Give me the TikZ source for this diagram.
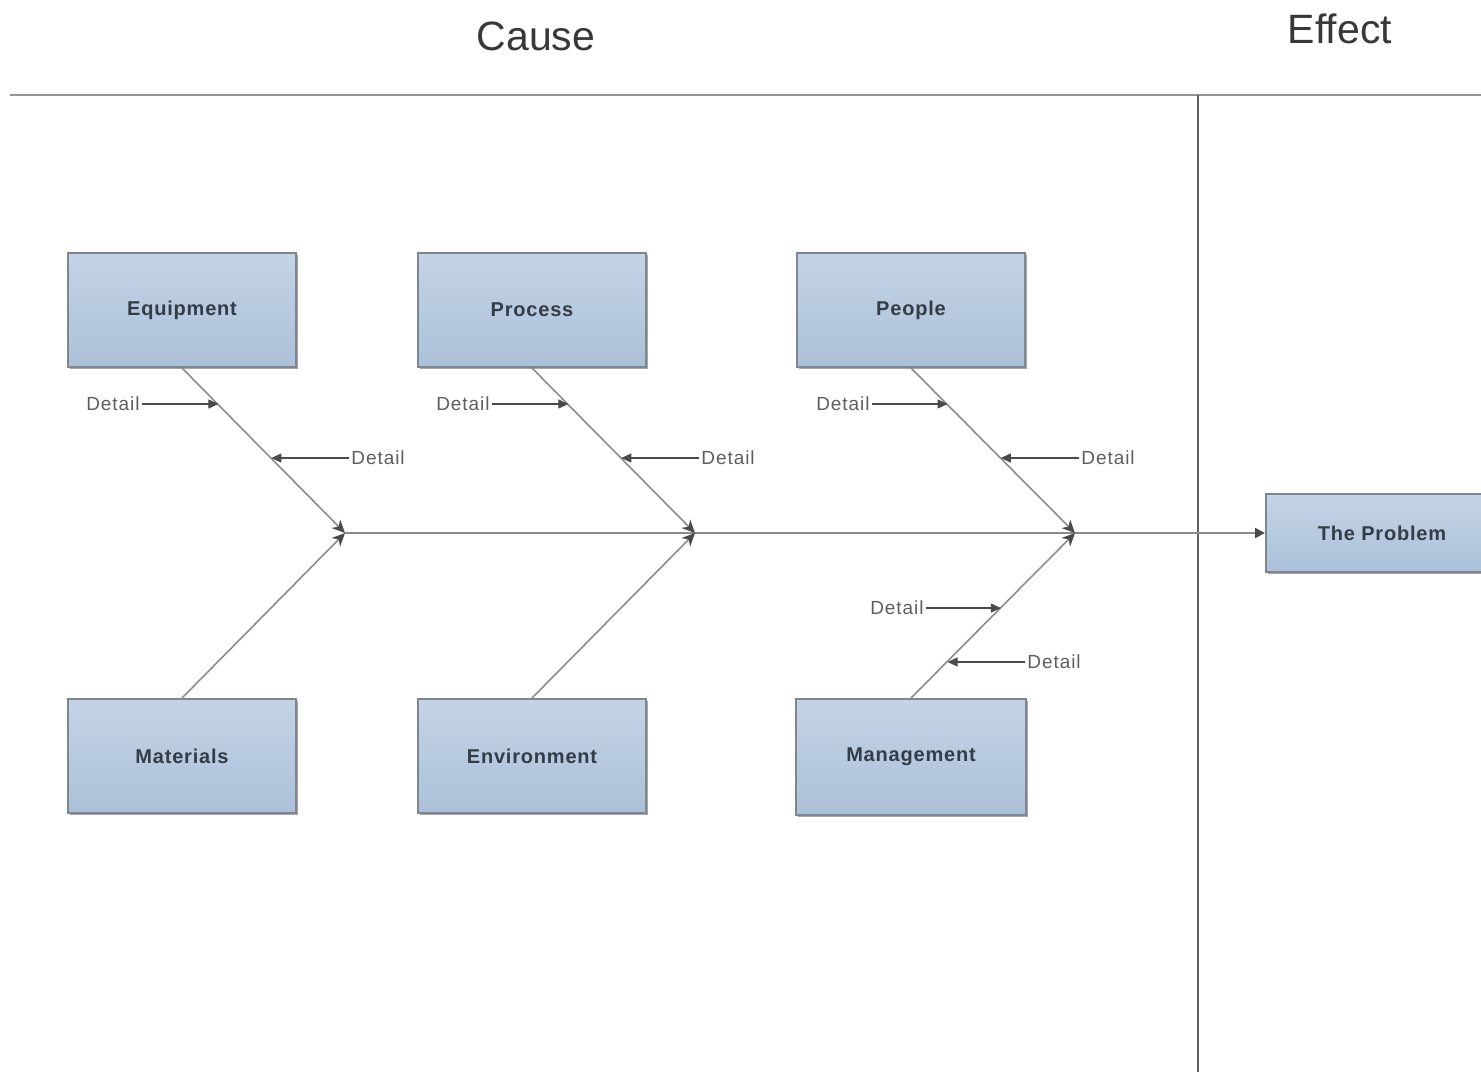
\documentclass[tikz,border=0pt]{standalone}
\usepackage{fontspec}
\setmainfont{Liberation Sans}
\usetikzlibrary{arrows.meta,calc,shadows}
\definecolor{boxtop}{HTML}{C4D4E6}
\definecolor{boxbot}{HTML}{ACC0D8}
\definecolor{boxedge}{HTML}{7E868F}
\definecolor{boxtext}{HTML}{333D48}
\definecolor{bonegray}{HTML}{8C8C8C}
\definecolor{tipgray}{HTML}{4A4A4A}
\definecolor{labelgray}{HTML}{5E5E5E}
\tikzset{
  causebox/.style={draw=boxedge, line width=1pt, top color=boxtop, bottom color=boxbot,
    minimum width=114pt, minimum height=57pt, inner sep=0pt,
    font=\fontsize{10}{12}\selectfont\bfseries\addfontfeatures{LetterSpace=4}, text=boxtext,
    drop shadow={shadow xshift=1pt, shadow yshift=-1.2pt, opacity=0.35, fill=black}},
  bone/.style={draw=bonegray, line width=0.8pt},
  spine/.style={draw=bonegray, line width=1pt},
  tip/.style={-{Stealth[length=6.5pt,width=6pt,inset=2pt,color=tipgray,fill=tipgray]}},
  detail/.style={font=\fontsize{9.5}{11}\selectfont\addfontfeatures{LetterSpace=5}, text=labelgray, inner sep=1pt},
  darrow/.style={draw=tipgray, line width=0.6pt, -{Triangle[length=5pt,width=4.5pt,color=tipgray,fill=tipgray]}},
  heading/.style={font=\fontsize{20.5}{24}\selectfont, text=black!78, inner sep=0pt},
  frame/.style={line width=1pt}
}
\begin{document}
\begin{tikzpicture}[x=0.5pt,y=-0.5pt]
\useasboundingbox (0,0) rectangle (1481,1072);
\clip (0,0) rectangle (1481,1072);

% column headings and frame lines
\node[heading] (cause) at (536,36) {Cause};
\node[heading] (effect) at (1340,29) {Effect};
\coordinate (hl) at (10,95);
\coordinate (hr) at (1481,95);
\coordinate (vt) at (1198,95);
\coordinate (vb) at (1198,1072);
\draw[frame, draw=black!42] (hl) -- (hr);
\draw[frame, draw=black!62] (vt) -- (vb);

% category boxes
\node[causebox] (equip) at (182,310) {Equipment};
\node[causebox] (proc)  at (532,310) {Process};
\node[causebox] (people) at (911,310) {People};
\node[causebox] (mat)   at (182,756) {Materials};
\node[causebox] (env)   at (532,756) {Environment};
\node[causebox, minimum width=115pt, minimum height=58pt] (mgmt) at (911,757) {Management};
\node[causebox, minimum width=116pt, minimum height=39pt] (prob) at (1382,533) {The Problem};

% junctions on the spine
\coordinate (j1) at (345,533);
\coordinate (j2) at (695,533);
\coordinate (j3) at (1075,533);

% spine
\draw[spine, -{Triangle[length=5pt,width=5pt,color=tipgray,fill=tipgray]}] (j1) -- (prob.west);

% bones
\draw[bone, tip] (equip.south) -- (j1);
\draw[bone, tip] (mat.north) -- (j1);
\draw[bone, tip] (proc.south) -- (j2);
\draw[bone, tip] (env.north) -- (j2);
\draw[bone, tip] (people.south) -- (j3);
\draw[bone, tip] (mgmt.north) -- (j3);

% points on the bones where the details attach
\coordinate (e1) at ($(equip.south)!0.223!(j1)$);
\coordinate (e2) at ($(equip.south)!0.548!(j1)$);
\coordinate (p1) at ($(proc.south)!0.223!(j2)$);
\coordinate (p2) at ($(proc.south)!0.548!(j2)$);
\coordinate (q1) at ($(people.south)!0.223!(j3)$);
\coordinate (q2) at ($(people.south)!0.548!(j3)$);
\coordinate (m1) at ($(mgmt.north)!0.548!(j3)$);
\coordinate (m2) at ($(mgmt.north)!0.223!(j3)$);

% detail labels
\node[detail, anchor=east] (de1) at (142,404) {Detail};
\node[detail, anchor=west] (de2) at (349,458) {Detail};
\node[detail, anchor=east] (dp1) at (492,404) {Detail};
\node[detail, anchor=west] (dp2) at (699,458) {Detail};
\node[detail, anchor=east] (dq1) at (872,404) {Detail};
\node[detail, anchor=west] (dq2) at (1079,458) {Detail};
\node[detail, anchor=east] (dm1) at (926,608) {Detail};
\node[detail, anchor=west] (dm2) at (1025,662) {Detail};

% detail arrows
\draw[darrow] (de1.east) -- (de1.east -| e1);
\draw[darrow] (de2.west) -- (de2.west -| e2);
\draw[darrow] (dp1.east) -- (dp1.east -| p1);
\draw[darrow] (dp2.west) -- (dp2.west -| p2);
\draw[darrow] (dq1.east) -- (dq1.east -| q1);
\draw[darrow] (dq2.west) -- (dq2.west -| q2);
\draw[darrow] (dm1.east) -- (dm1.east -| m1);
\draw[darrow] (dm2.west) -- (dm2.west -| m2);
\end{tikzpicture}
\end{document}
